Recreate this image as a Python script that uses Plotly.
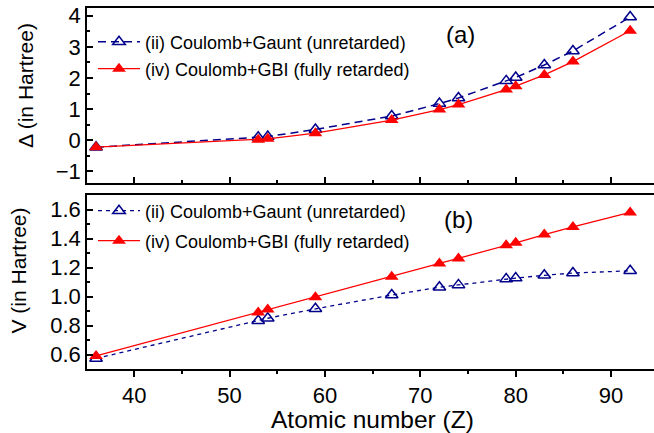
import plotly.graph_objects as go

Z = [36, 53, 54, 59, 67, 72, 74, 79, 80, 83, 86, 92]
delta_gaunt = [-0.22, 0.10, 0.12, 0.35, 0.78, 1.18, 1.36, 1.91, 2.02, 2.42, 2.87, 3.96]
delta_gbi = [-0.22, 0.02, 0.05, 0.23, 0.65, 0.99, 1.15, 1.63, 1.74, 2.10, 2.53, 3.52]
v_gaunt = [0.573, 0.833, 0.850, 0.915, 1.010, 1.064, 1.080, 1.120, 1.127, 1.146, 1.162, 1.177]
v_gbi = [0.590, 0.890, 0.910, 0.995, 1.136, 1.228, 1.262, 1.353, 1.370, 1.427, 1.480, 1.580]
name_gaunt = "(ii) Coulomb+Gaunt (unretarded)"
name_gbi = "(iv) Coulomb+GBI (fully retarded)"

BLUE = "#00008B"
RED = "#FF0000"
FONT = "Liberation Sans, Arial, sans-serif"

W, H = 654, 433
L, R, T, B = 87, 0, 8, 64
ph = H - T - B
pw = W - L - R
top_dom = [(369 - 183) / ph, 1.0]
bot_dom = [0.0, (369 - 195) / ph]

fig = go.Figure()

blue_marker = dict(symbol="triangle-up-open", size=11, color=BLUE, line=dict(width=1.5, color=BLUE))
red_marker = dict(symbol="triangle-up", size=12, color=RED)

fig.add_trace(go.Scatter(x=Z, y=delta_gaunt, name=name_gaunt, mode="lines+markers",
                         line=dict(color=BLUE, width=1.5, dash="8px,5px"), marker=blue_marker,
                         xaxis="x", yaxis="y", legend="legend"))
fig.add_trace(go.Scatter(x=Z, y=delta_gbi, name=name_gbi, mode="lines+markers",
                         line=dict(color=RED, width=1.3), marker=red_marker,
                         xaxis="x", yaxis="y", legend="legend2"))
fig.add_trace(go.Scatter(x=Z, y=v_gaunt, name=name_gaunt, mode="lines+markers",
                         line=dict(color=BLUE, width=1.3, dash="4px,4px"), marker=blue_marker,
                         xaxis="x2", yaxis="y2", legend="legend3"))
fig.add_trace(go.Scatter(x=Z, y=v_gbi, name=name_gbi, mode="lines+markers",
                         line=dict(color=RED, width=1.3), marker=red_marker,
                         xaxis="x2", yaxis="y2", legend="legend4"))

xrange = [35.05, 94.5]
axis_common = dict(showgrid=False, zeroline=False, showline=True, linecolor="black", linewidth=1.5,
                   tickcolor="black", tickwidth=1.5, ticklen=6,
                   tickfont=dict(family=FONT, size=22, color="black"))


def leg(ypix):
    return dict(x=(93 - L) / pw, y=(H - B - ypix) / ph, xanchor="left", yanchor="middle",
                bgcolor="rgba(0,0,0,0)", borderwidth=0,
                font=dict(family=FONT, size=18, color="black"), itemwidth=42)


fig.update_layout(
    width=W, height=H,
    margin=dict(l=L, r=R, t=T, b=B),
    paper_bgcolor="white", plot_bgcolor="white",
    font=dict(family=FONT, color="black"),
    xaxis=dict(domain=[0, 1], range=xrange, anchor="y", ticks="inside", showticklabels=False,
               dtick=10, tick0=0, mirror=True,
               minor=dict(ticks="inside", dtick=5, tick0=0, ticklen=3, tickwidth=1.5, tickcolor="black"),
               **axis_common),
    yaxis=dict(domain=top_dom, range=[-1.37, 4.25], anchor="x", ticks="inside", dtick=1, tick0=0,
               minor=dict(ticks="inside", dtick=0.5, tick0=0, ticklen=3, tickwidth=1.5, tickcolor="black"),
               **axis_common),
    xaxis2=dict(domain=[0, 1], range=xrange, anchor="y2", ticks="outside", dtick=10, tick0=0, mirror=True,
                minor=dict(ticks="outside", dtick=5, tick0=0, ticklen=3, tickwidth=1.5, tickcolor="black"),
                **axis_common),
    yaxis2=dict(domain=bot_dom, range=[0.5, 1.7], anchor="x2", ticks="inside", dtick=0.2, tick0=0,
                tickformat=".1f",
                minor=dict(ticks="inside", dtick=0.1, tick0=0, ticklen=3, tickwidth=1.5, tickcolor="black"),
                **axis_common),
    legend=leg(42),
    legend2=leg(69),
    legend3=leg(211),
    legend4=leg(241),
    showlegend=True,
)

annos = [
    dict(text="Δ (in Hartree)", x=25, y=86, textangle=-90, size=21),
    dict(text="V (in Hartree)", x=17.5, y=271, textangle=-90, size=21),
    dict(text="Atomic number (Z)", x=372, y=419, textangle=0, size=24.5),
    dict(text="(a)", x=460, y=35, textangle=0, size=24),
    dict(text="(b)", x=458, y=219, textangle=0, size=24),
]
for a in annos:
    fig.add_annotation(text=a["text"], xref="paper", yref="paper",
                       x=(a["x"] - L) / pw, y=(H - B - a["y"]) / ph,
                       xanchor="center", yanchor="middle", showarrow=False, textangle=a["textangle"],
                       font=dict(family=FONT, size=a["size"], color="black"))

fig.write_html("out.html")
